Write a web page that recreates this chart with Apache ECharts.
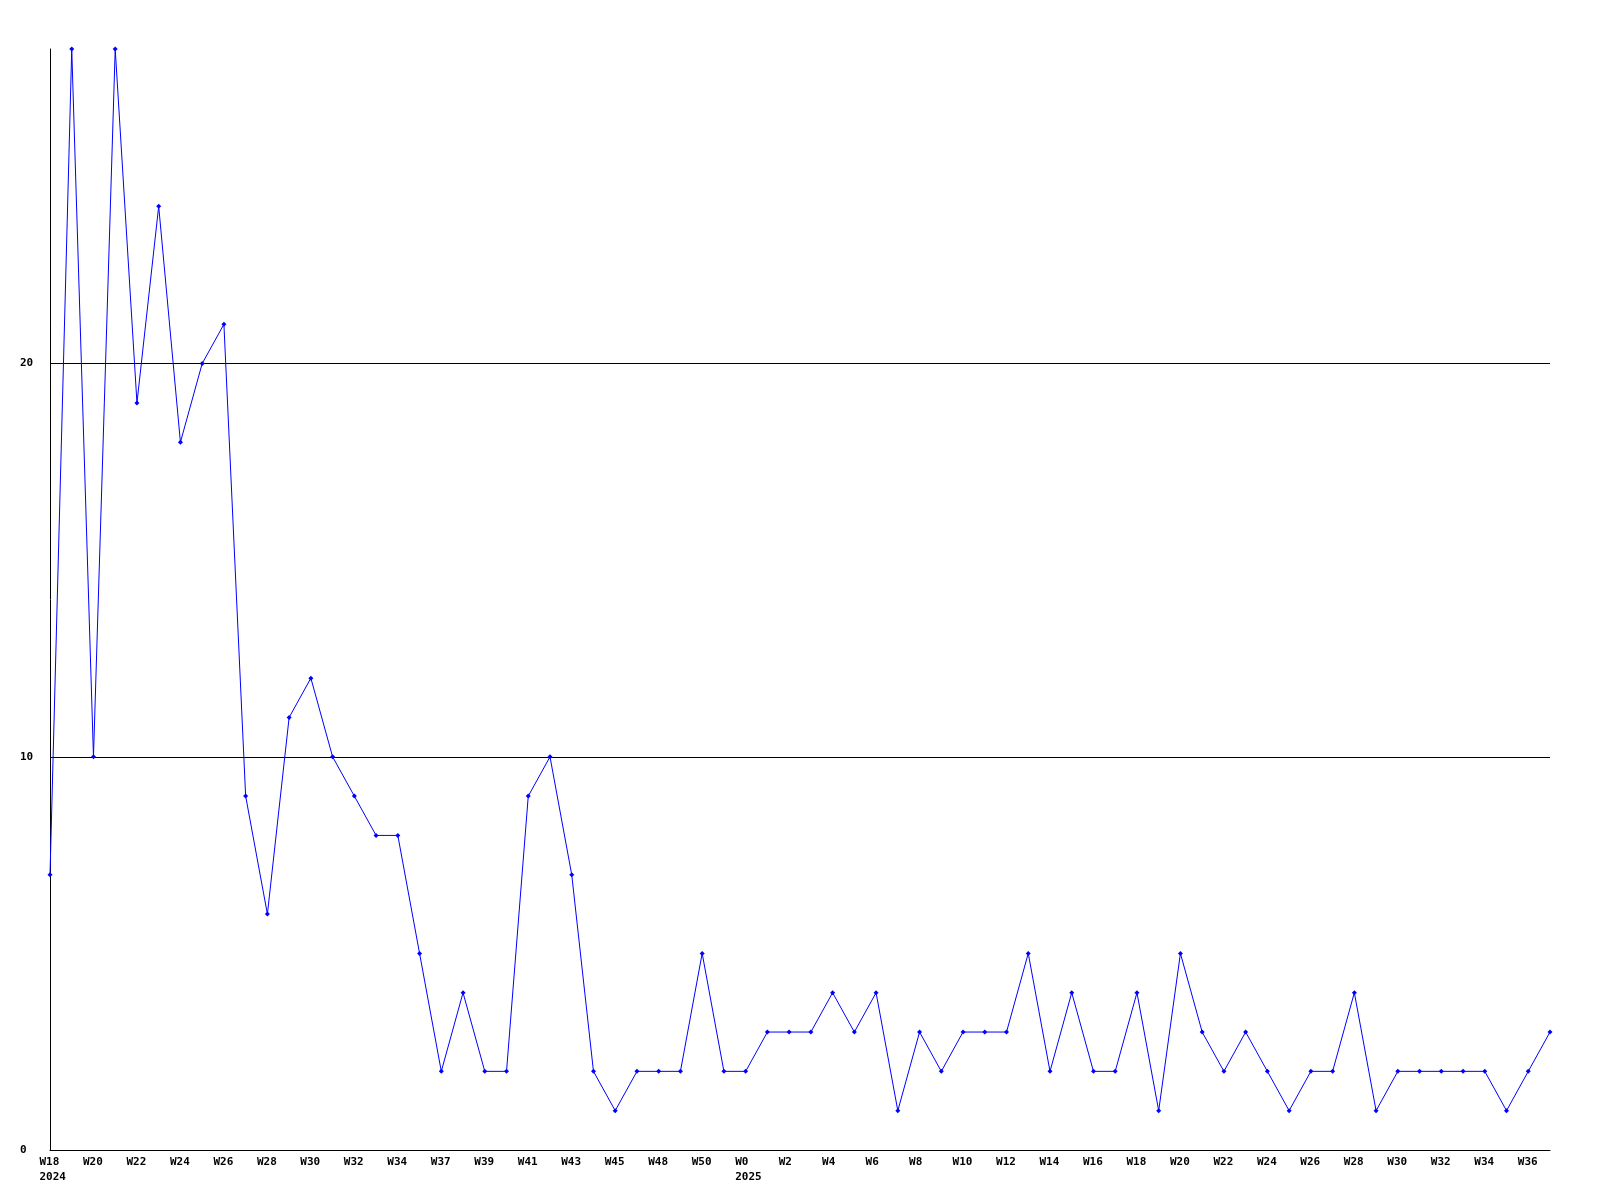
<!DOCTYPE html>
<html>
<head>
<meta charset="utf-8">
<script src="https://cdn.jsdelivr.net/npm/echarts@6/dist/echarts.min.js"></script>
<style>
html,body{margin:0;padding:0;background:#fff;}
#chart{width:1600px;height:1200px;}
</style>
</head>
<body>
<div id="chart"></div>
<script>
var weeks = ['W18','W19','W20','W21','W22','W23','W24','W25','W26','W27','W28','W29','W30','W31','W32','W33','W34','W35','W37','W38','W39','W40','W41','W42','W43','W44','W45','W46','W48','W49','W50','W51',
  'W0','W1','W2','W3','W4','W5','W6','W7','W8','W9','W10','W11','W12','W13','W14','W15','W16','W17','W18','W19','W20','W21','W22','W23','W24','W25','W26','W27','W28','W29','W30','W31','W32','W33','W34','W35','W36','W37'];
var years = ['2024','','','','','','','','','','','','','','','','','','','','','','','','','','','','','','','',
  '2025','','','','','','','','','','','','','','','','','','','','','','','','','','','','','','','','','','','','',''];
var values = [7,28,10,28,19,24,18,20,21,9,6,11,12,10,9,8,8,5,2,4,2,2,9,10,7,2,1,2,2,2,5,2,
  2,3,3,3,4,3,4,1,3,2,3,3,3,5,2,4,2,2,4,1,5,3,2,3,2,1,2,2,4,1,2,2,2,2,2,1,2,3];
var yTicks = [0,10,20];

var chart = echarts.init(document.getElementById('chart'));
var fontFam = '"DejaVu Sans Mono", monospace';
chart.setOption({
  animation: false,
  backgroundColor: '#ffffff',
  grid: {left: 50, right: 50, top: 49, bottom: 50, containLabel: false},
  xAxis: {
    type: 'category',
    data: weeks,
    boundaryGap: false,
    axisLine: {show: true, lineStyle: {color: '#000', width: 1}},
    axisTick: {show: false},
    splitLine: {show: false},
    axisLabel: {
      interval: 1,
      margin: 5,
      color: '#000',
      fontFamily: fontFam,
      fontWeight: 'bold',
      fontSize: 11,
      lineHeight: 15,
      verticalAlign: 'top',
      align: 'center',
      rich: {
        a: {width: 21, align: 'left', fontFamily: fontFam, fontWeight: 'bold', fontSize: 11, lineHeight: 15, color: '#000'}
      },
      formatter: function (v, i) { return years[i] ? '{a|' + v + '}\n{a|' + years[i] + '}' : '{a|' + v + '}'; }
    }
  },
  yAxis: {
    type: 'value',
    min: 0,
    max: 28,
    interval: 10,
    axisLine: {show: true, lineStyle: {color: '#000', width: 1}},
    axisTick: {show: false},
    splitLine: {show: true, lineStyle: {color: ['#000', '#000', '#000', 'rgba(0,0,0,0)'], width: 1}},
    axisLabel: {
      showMaxLabel: false,
      align: 'left',
      margin: 30,
      color: '#000',
      fontFamily: fontFam,
      fontWeight: 'bold',
      fontSize: 11,
      formatter: function (v) { return yTicks.indexOf(v) >= 0 ? String(v) : ''; }
    }
  },
  series: [{
    type: 'line',
    data: values,
    symbol: 'diamond',
    symbolSize: 5,
    showAllSymbol: true,
    lineStyle: {color: '#0000ff', width: 1},
    itemStyle: {color: '#0000ff'},
    clip: false
  }]
});
</script>
</body>
</html>
